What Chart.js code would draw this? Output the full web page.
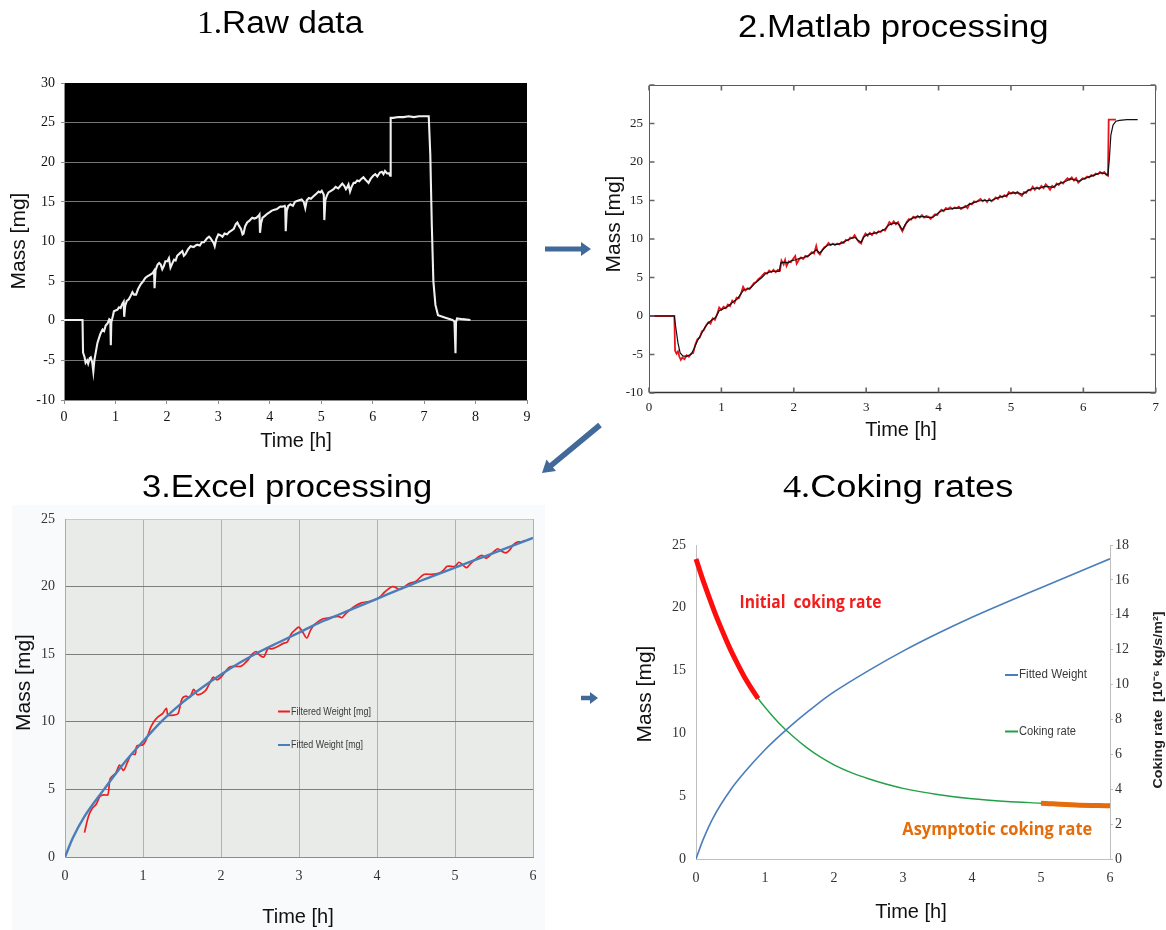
<!DOCTYPE html>
<html>
<head>
<meta charset="utf-8">
<title>Coking measurement workflow</title>
<script src="https://cdn.jsdelivr.net/npm/chart.js@4.4.1/dist/chart.umd.min.js"></script>
<style>
  html, body { margin: 0; padding: 0; background: #fff; }
  #stage { position: relative; width: 1166px; height: 930px; overflow: hidden; background: #fff; }
  canvas.layer { position: absolute; left: 0; top: 0; }
  #excelBg { position: absolute; left: 12px; top: 505px; width: 533px; height: 425px; background: #f8fafb; }
  .ttl { position: absolute; white-space: nowrap; font-family: "Liberation Sans", Arial, sans-serif;
         font-size: 31px; line-height: 31px; color: #000; transform-origin: 0 0; }
  .ttl .num { font-family: "Liberation Serif", "Times New Roman", serif; }
  svg#arrows { position: absolute; left: 0; top: 0; }
</style>
</head>
<body>
<div id="stage">
  <div id="excelBg"></div>
  <canvas id="c1" class="layer" width="1166" height="930"></canvas>
  <canvas id="c2" class="layer" width="1166" height="930"></canvas>
  <canvas id="c3" class="layer" width="1166" height="930"></canvas>
  <canvas id="c4" class="layer" width="1166" height="930"></canvas>
  <svg id="arrows" width="1166" height="930"></svg>
  <div class="ttl" id="t1"><span class="num">1.</span>Raw data</div>
  <div class="ttl" id="t2">2.Matlab processing</div>
  <div class="ttl" id="t3">3.Excel processing</div>
  <div class="ttl" id="t4"><span class="num">4.</span>Coking rates</div>
</div>
<script>
// ---------- 1. raw balance signal ----------
const rawHours = [
  0.00,0.36,0.37,0.40,0.42,0.45,0.47,0.50,0.52,0.55,
  0.57,0.59,0.62,0.65,0.68,0.71,0.75,0.78,0.81,0.85,
  0.88,0.90,0.91,0.92,0.95,0.97,1.00,1.04,1.07,1.10,
  1.13,1.16,1.17,1.19,1.22,1.26,1.30,1.33,1.36,1.40,
  1.44,1.49,1.54,1.58,1.62,1.67,1.72,1.75,1.76,1.78,
  1.82,1.85,1.88,1.91,1.94,1.97,2.01,2.04,2.07,2.11,
  2.14,2.17,2.20,2.25,2.30,2.33,2.36,2.41,2.46,2.52,
  2.56,2.59,2.64,2.68,2.72,2.78,2.82,2.85,2.89,2.91,
  2.93,2.96,3.00,3.04,3.08,3.12,3.17,3.21,3.26,3.30,
  3.34,3.37,3.40,3.44,3.47,3.49,3.52,3.56,3.60,3.63,
  3.66,3.70,3.74,3.79,3.80,3.81,3.83,3.86,3.90,3.95,
  4.00,4.04,4.09,4.14,4.18,4.21,4.25,4.29,4.30,4.31,
  4.33,4.36,4.40,4.45,4.49,4.53,4.57,4.62,4.66,4.69,
  4.72,4.76,4.80,4.85,4.90,4.95,4.98,5.01,5.05,5.06,
  5.08,5.11,5.14,5.19,5.24,5.28,5.33,5.37,5.41,5.45,
  5.48,5.50,5.53,5.56,5.59,5.63,5.66,5.70,5.74,5.78,
  5.82,5.86,5.89,5.92,5.96,6.01,6.05,6.09,6.14,6.18,
  6.21,6.24,6.28,6.32,6.34,6.35,6.40,6.50,6.60,6.70,
  6.80,6.90,7.00,7.09,7.12,7.15,7.18,7.22,7.27,7.40,
  7.55,7.59,7.61,7.62,7.64,7.75,7.90
];
const rawMass = [
  0.1,0.1,-4.0,-4.6,-5.3,-5.0,-5.4,-4.7,-4.6,-5.3,
  -6.4,-5.0,-3.9,-2.8,-2.2,-1.6,-1.1,-1.3,-0.6,-0.3,
  0.2,0.1,-3.1,-0.2,0.6,1.2,1.3,1.4,1.7,1.6,
  2.1,2.4,0.5,1.9,2.5,2.7,3.2,3.6,3.3,3.3,
  4.0,4.6,5.0,5.4,5.6,5.8,6.0,6.3,4.1,6.4,
  7.1,7.3,7.1,6.5,6.9,7.5,7.5,7.9,6.7,7.3,
  7.7,7.6,8.2,8.5,8.8,8.2,8.4,9.0,9.4,9.3,
  9.5,9.6,9.5,9.9,9.9,10.4,10.6,10.4,10.0,9.8,
  9.4,10.3,10.9,10.8,10.6,11.0,10.9,11.2,11.4,11.6,
  12.2,12.4,12.0,11.6,10.9,11.0,11.9,12.4,12.6,12.8,
  13.0,12.9,13.0,13.3,13.4,11.1,12.3,13.0,13.2,13.5,
  13.7,13.9,14.0,14.1,14.3,14.4,14.4,14.5,14.3,11.3,
  13.9,14.5,14.7,14.5,15.0,15.1,15.2,15.3,15.0,14.2,
  15.2,15.5,15.4,15.7,16.0,16.3,16.2,16.4,15.9,12.7,
  15.2,15.8,16.2,16.4,16.6,16.9,16.7,17.0,17.3,17.0,
  16.6,16.8,17.2,16.3,16.9,17.4,17.4,17.7,17.6,17.9,
  18.1,17.8,17.6,17.4,17.9,18.3,18.5,18.2,18.7,18.8,
  18.5,18.9,18.6,18.6,18.3,25.6,25.6,25.7,25.7,25.8,
  25.7,25.8,25.8,25.8,21.0,12.0,5.0,2.0,0.7,0.4,
  0.1,-0.1,-4.1,-0.2,0.3,0.2,0.1
];

// ---------- 2. Matlab: smoothed signal (black) and cleaned signal (red) ----------
const smoothHours = [
  0,0.35,0.37,0.40,0.43,0.47,0.52,0.58,0.62,0.67,
  0.72,0.77,0.82,0.87,0.92,0.97,1.02,1.07,1.12,1.17,
  1.22,1.27,1.31,1.36,1.41,1.46,1.51,1.56,1.61,1.66,
  1.71,1.80,1.82,1.87,1.92,1.97,2.03,2.08,2.14,2.20,
  2.26,2.31,2.36,2.42,2.47,2.53,2.60,2.67,2.73,2.80,
  2.85,2.89,2.93,2.97,3.02,3.08,3.14,3.20,3.26,3.31,
  3.36,3.42,3.46,3.50,3.54,3.60,3.66,3.72,3.79,3.85,
  3.92,3.97,4.03,4.09,4.16,4.23,4.30,4.36,4.42,4.48,
  4.54,4.60,4.67,4.73,4.80,4.87,4.93,4.98,5.04,5.10,
  5.16,5.22,5.28,5.34,5.40,5.46,5.52,5.58,5.64,5.70,
  5.76,5.82,5.88,5.94,6.00,6.06,6.12,6.18,6.24,6.30,
  6.34,6.36,6.38,6.41,6.45,6.50,6.60,6.75
];
const smoothMass = [
  0,0,-1.5,-3.5,-4.8,-5.2,-5.2,-5.0,-4.3,-3.2,
  -2.4,-1.5,-0.9,-0.5,-0.2,0.7,0.9,1.1,1.5,1.9,
  2.2,2.9,3.4,3.5,3.7,4.2,4.6,5.0,5.5,5.7,
  5.8,5.8,6.9,7.0,6.9,7.2,7.3,7.5,7.6,7.8,
  8.2,8.6,8.2,8.8,9.2,9.3,9.3,9.5,9.8,10.1,
  10.2,9.8,9.6,10.3,10.6,10.7,10.8,11.0,11.3,11.8,
  12.0,12.1,11.8,11.2,11.9,12.5,12.8,12.9,12.9,12.8,
  12.8,13.2,13.6,13.8,13.9,14.0,14.0,14.1,14.5,14.7,
  14.9,15.0,15.0,15.0,15.3,15.5,15.6,15.9,16.0,16.0,
  15.8,16.2,16.5,16.6,16.6,16.8,16.8,16.7,17.1,17.3,
  17.5,17.8,17.7,17.5,17.8,18.0,18.2,18.4,18.6,18.5,
  18.3,20.5,23.5,24.8,25.3,25.4,25.5,25.5
];
const cleanHours = [
  0,0.35,0.36,0.38,0.40,0.42,0.44,0.46,0.49,0.52,
  0.55,0.58,0.61,0.64,0.67,0.70,0.73,0.76,0.79,0.82,
  0.85,0.88,0.91,0.94,0.97,1.00,1.03,1.06,1.09,1.12,
  1.15,1.18,1.21,1.24,1.27,1.30,1.33,1.36,1.39,1.42,
  1.45,1.48,1.51,1.54,1.57,1.60,1.63,1.66,1.69,1.72,
  1.75,1.78,1.81,1.83,1.86,1.88,1.90,1.93,1.96,1.99,
  2.02,2.04,2.07,2.10,2.13,2.16,2.19,2.22,2.25,2.28,
  2.31,2.33,2.36,2.39,2.42,2.45,2.48,2.51,2.54,2.57,
  2.60,2.63,2.66,2.69,2.72,2.75,2.78,2.81,2.84,2.87,
  2.90,2.93,2.96,2.99,3.02,3.05,3.08,3.11,3.14,3.17,
  3.20,3.23,3.26,3.29,3.32,3.35,3.38,3.41,3.44,3.47,
  3.50,3.53,3.56,3.59,3.62,3.65,3.68,3.71,3.74,3.77,
  3.80,3.83,3.86,3.89,3.92,3.95,3.98,4.01,4.04,4.07,
  4.10,4.13,4.16,4.19,4.22,4.25,4.28,4.31,4.34,4.37,
  4.40,4.43,4.46,4.49,4.52,4.55,4.58,4.61,4.64,4.67,
  4.70,4.73,4.76,4.79,4.82,4.85,4.88,4.91,4.94,4.97,
  5.00,5.03,5.06,5.09,5.12,5.15,5.18,5.21,5.24,5.27,
  5.30,5.33,5.36,5.39,5.42,5.45,5.48,5.51,5.54,5.57,
  5.60,5.63,5.66,5.69,5.72,5.75,5.78,5.81,5.84,5.87,
  5.90,5.93,5.96,5.99,6.02,6.05,6.08,6.11,6.14,6.17,
  6.20,6.23,6.26,6.29,6.32,6.34,6.35,6.40,6.45
];
const cleanMass = [
  0,0,-4.5,-4.9,-4.6,-5.3,-5.7,-5.4,-5.6,-5.1,
  -5.3,-4.9,-4.8,-3.7,-3.0,-2.8,-2.0,-1.8,-1.2,-0.8,
  -1.0,-0.3,-0.5,0.2,1.1,0.8,1.2,1.0,1.5,1.3,
  2.0,1.7,2.4,2.3,2.9,3.8,3.3,3.6,3.5,3.9,
  4.3,4.4,4.8,5.0,5.3,5.6,5.5,5.9,5.7,6.0,
  5.7,6.0,5.9,7.2,6.7,7.3,6.5,7.1,7.0,7.4,
  7.8,6.8,7.3,7.6,7.4,7.8,7.7,8.0,8.3,8.1,
  9.1,8.3,8.0,8.5,8.9,9.1,9.5,9.2,9.4,9.2,
  9.4,9.3,9.6,9.5,9.9,9.8,10.2,10.1,10.5,10.0,
  9.6,9.4,10.2,10.7,10.4,10.8,10.5,10.9,10.7,11.0,
  10.9,11.2,11.1,11.6,12.2,11.9,12.3,11.9,12.2,11.5,
  11.0,11.6,12.2,12.6,12.5,12.9,12.7,13.0,12.8,13.1,
  12.8,13.0,12.9,12.6,12.9,13.2,13.1,13.5,13.8,13.6,
  14.0,13.9,14.1,13.9,14.1,14.0,14.2,13.9,14.1,14.3,
  14.0,14.6,14.5,14.9,14.8,15.0,15.2,14.9,15.1,14.8,
  15.2,14.9,15.1,15.4,15.2,15.6,15.4,15.7,15.5,16.1,
  15.9,16.1,15.9,16.1,15.8,15.6,16.1,16.0,16.4,16.3,
  16.8,16.4,16.7,16.5,16.9,16.6,17.1,16.8,16.4,16.9,
  16.7,17.2,17.0,17.4,17.2,17.6,17.9,17.7,18.0,17.6,
  17.9,17.3,17.6,17.9,17.8,18.1,18.0,18.3,18.2,18.5,
  18.4,18.7,18.5,18.7,18.3,18.2,25.5,25.5,25.5
];

// ---------- 3. Excel: filtered weight and fitted weight ----------
const filteredHours = [
  0.25,0.30,0.35,0.40,0.45,0.50,0.55,0.58,0.65,0.70,
  0.75,0.80,0.85,0.90,0.92,1.00,1.05,1.10,1.15,1.20,
  1.25,1.30,1.32,1.40,1.45,1.50,1.55,1.60,1.65,1.70,
  1.80,1.85,1.90,1.95,2.00,2.10,2.15,2.25,2.30,2.35,
  2.40,2.45,2.50,2.55,2.60,2.65,2.70,2.80,2.85,2.90,
  2.95,3.00,3.05,3.10,3.15,3.20,3.30,3.40,3.50,3.55,
  3.60,3.70,3.80,3.90,4.00,4.05,4.10,4.20,4.30,4.40,
  4.50,4.60,4.70,4.80,4.85,4.90,5.00,5.05,5.10,5.15,
  5.20,5.30,5.35,5.40,5.50,5.55,5.60,5.65,5.70,5.75,
  5.80,5.85,5.90
];
const filteredMass = [
  1.8,3.0,3.6,3.9,4.5,4.6,4.6,5.8,6.2,6.8,
  6.4,7.0,7.6,7.6,8.2,8.3,8.8,9.6,10.1,10.4,
  10.6,11.0,10.5,10.5,10.6,11.7,11.9,11.8,12.4,12.0,
  12.3,12.8,13.3,13.1,13.3,14.0,14.1,14.1,14.3,14.6,
  15.0,15.2,14.9,14.8,15.4,15.4,15.5,15.8,15.9,16.5,
  16.8,17.0,16.6,16.2,16.8,17.2,17.6,17.7,17.8,17.7,
  18.0,18.5,18.8,18.9,19.1,19.3,19.6,20.0,19.8,20.2,
  20.4,20.9,20.9,21.0,21.2,21.5,21.5,21.8,21.6,21.4,
  21.7,22.2,22.3,22.1,22.6,22.8,22.6,22.5,22.7,23.1,
  23.3,23.3,23.4
];
const fitHours = [0,0.1,0.25,0.5,0.75,1.0,1.25,1.5,1.75,2.0,2.25,2.5,2.75,3.0,3.25,3.5,3.75,4.0,4.25,4.5,4.75,5.0,5.25,5.5,5.75,6.0];
const fitMass  = [0,1.4,3.0,5.0,6.9,8.55,10.1,11.4,12.5,13.5,14.4,15.2,15.9,16.6,17.3,17.9,18.5,19.1,19.7,20.3,20.85,21.4,21.95,22.5,23.05,23.6];

// ---------- 4. Coking rates ----------
const curveHours = [0,0.1,0.25,0.5,0.75,1,1.25,1.5,1.75,2,2.5,3,3.5,4,4.5,5,5.5,6];
const curveMass  = [0,1.5,3.3,5.5,7.2,8.7,10.0,11.2,12.3,13.3,15.0,16.55,17.95,19.25,20.45,21.6,22.75,23.9];
const rateHours = [0,0.1,0.2,0.3,0.4,0.5,0.6,0.7,0.8,0.9,1.0,1.2,1.4,1.6,1.8,2.0,2.25,2.5,2.75,3.0,3.5,4.0,4.5,5.0,5.5,6.0];
const rateValues = [17.2,16.0,14.9,13.85,12.9,12.0,11.2,10.45,9.8,9.2,8.7,7.8,7.05,6.4,5.85,5.4,4.95,4.6,4.3,4.05,3.7,3.45,3.3,3.2,3.1,3.05];
const initialRange = [0, 0.9];
const asymptoticRange = [5, 6];

// tick settings per panel
const rawTicksX = {min: 0, max: 9, step: 1};
const rawTicksY = {min: -10, max: 30, step: 5};
const matlabTicksX = {min: 0, max: 7, step: 1};
const matlabTicksY = {min: -10, max: 30, step: 5};
const excelTicksX = {min: 0, max: 6, step: 1};
const excelTicksY = {min: 0, max: 25, step: 5};
const rateTicksY = {min: 0, max: 18, step: 2};

// ---------- helpers ----------
const W = 1166, H = 930;
const serif = '"Liberation Serif", "Times New Roman", serif';
const sans = '"Liberation Sans", Arial, sans-serif';

const pts = (xs, ys) => xs.map((x, i) => ({x, y: ys[i]}));
const within = (xs, ys, [lo, hi]) => {
  const out = [];
  xs.forEach((x, i) => { if (x >= lo && x <= hi) out.push({x, y: ys[i]}); });
  return out;
};

function baseOptions(area, yW, xH, rW) {
  return {
    responsive: false, animation: false, devicePixelRatio: 1, events: [],
    layout: {padding: {left: area.left - yW, top: area.top,
                       right: W - area.right - (rW || 0), bottom: H - area.bottom - xH}},
    plugins: {legend: {display: false}, tooltip: {enabled: false}},
    elements: {point: {radius: 0}}
  };
}

const areaFill = color => ({
  id: 'areaFill',
  beforeDraw(chart) {
    const a = chart.chartArea, c = chart.ctx;
    c.save(); c.fillStyle = color;
    c.fillRect(a.left, a.top, a.right - a.left, a.bottom - a.top);
    c.restore();
  }
});

// draws text labels (optionally rotated and stretched to a width) and legend swatches
const textLayer = getItems => ({
  id: 'textLayer',
  afterDraw(chart) {
    const ctx = chart.ctx;
    const items = typeof getItems === 'function' ? getItems(chart) : getItems;
    items.forEach(it => {
      ctx.save();
      if (it.line) {
        ctx.strokeStyle = it.color; ctx.lineWidth = it.lineWidth || 2;
        ctx.beginPath(); ctx.moveTo(it.x1, it.y); ctx.lineTo(it.x2, it.y); ctx.stroke();
        ctx.restore(); return;
      }
      ctx.font = it.font; ctx.fillStyle = it.color || '#000';
      ctx.textAlign = it.align || 'center'; ctx.textBaseline = 'middle';
      ctx.translate(it.x, it.y);
      if (it.rotate) ctx.rotate(it.rotate);
      if (it.width) { const w = ctx.measureText(it.text).width; ctx.scale(it.width / w, 1); }
      ctx.fillText(it.text, 0, 0);
      ctx.restore();
    });
  }
});

// Matlab-style box with inward tick marks on all four sides
const matlabBox = {
  id: 'matlabBox',
  afterDatasetsDraw(chart) {
    const {ctx, chartArea: a, scales: {x, y}} = chart;
    const L = Math.round(a.left) + 0.5, R = Math.round(a.right) - 0.5;
    const T = Math.round(a.top) + 0.5, B = Math.round(a.bottom) - 0.5;
    ctx.save();
    ctx.strokeStyle = '#5a5a5a'; ctx.lineWidth = 1;
    ctx.strokeRect(L, T, R - L, B - T);
    ctx.strokeStyle = '#333'; ctx.lineWidth = 1.6;
    ctx.beginPath(); ctx.moveTo(L, B); ctx.lineTo(R, B); ctx.stroke();
    ctx.strokeStyle = '#666'; ctx.lineWidth = 1.6;
    ctx.beginPath();
    x.ticks.forEach(t => {
      const px = x.getPixelForValue(t.value);
      ctx.moveTo(px, B); ctx.lineTo(px, B - 5);
      ctx.moveTo(px, T); ctx.lineTo(px, T + 5);
    });
    y.ticks.forEach(t => {
      const py = y.getPixelForValue(t.value);
      ctx.moveTo(L, py); ctx.lineTo(L + 5, py);
      ctx.moveTo(R, py); ctx.lineTo(R - 5, py);
    });
    ctx.stroke();
    ctx.restore();
  }
};

const linearX = (t, extra) => Object.assign({
  type: 'linear', min: t.min, max: t.max
}, extra);

// ---------- 1. Raw data ----------
const area1 = {left: 64, top: 83, right: 527, bottom: 400};
new Chart(document.getElementById('c1'), {
  type: 'line',
  data: {datasets: [{data: pts(rawHours, rawMass), borderColor: '#f0f0f0', borderWidth: 2.1, tension: 0}]},
  options: Object.assign(baseOptions(area1, 45, 40), {
    scales: {
      x: linearX(rawTicksX, {
        afterFit: s => { s.height = 40; },
        ticks: {stepSize: rawTicksX.step, autoSkip: false, maxRotation: 0, padding: 5, color: '#111', font: {family: serif, size: 14}},
        grid: {drawOnChartArea: false, drawTicks: true, tickLength: 4, color: '#8c8c8c'},
        border: {color: '#8c8c8c'}
      }),
      y: {
        min: rawTicksY.min, max: rawTicksY.max,
        afterFit: s => { s.width = 45; },
        ticks: {stepSize: rawTicksY.step, padding: 6, color: '#111', font: {family: serif, size: 14}},
        grid: {color: c => (c.tick && c.tick.value === rawTicksY.max) ? 'rgba(0,0,0,0)' : '#767676',
               tickColor: '#8c8c8c', tickLength: 3},
        border: {color: '#8c8c8c'}
      }
    }
  }),
  plugins: [areaFill('#000'), textLayer([
    {text: 'Mass [mg]', x: 19, y: 241, rotate: -Math.PI / 2, font: `21px ${sans}`, color: '#111'},
    {text: 'Time [h]', x: 296, y: 441, font: `20px ${sans}`, color: '#111'}
  ])]
});

// ---------- 2. Matlab processing ----------
const area2 = {left: 649, top: 85, right: 1158, bottom: 393};
new Chart(document.getElementById('c2'), {
  type: 'line',
  data: {datasets: [
    {data: pts(smoothHours, smoothMass), borderColor: '#111', borderWidth: 1.2, tension: 0},
    {data: pts(cleanHours, cleanMass), borderColor: '#e8141c', borderWidth: 1.8, tension: 0}
  ]},
  options: Object.assign(baseOptions(area2, 45, 40), {
    scales: {
      x: linearX(matlabTicksX, {
        afterFit: s => { s.height = 40; },
        ticks: {stepSize: matlabTicksX.step, autoSkip: false, maxRotation: 0, padding: 7, color: '#222', font: {family: serif, size: 13}},
        grid: {display: false, drawTicks: false},
        border: {display: false}
      }),
      y: {
        min: matlabTicksY.min, max: matlabTicksY.max,
        afterFit: s => { s.width = 45; },
        ticks: {stepSize: matlabTicksY.step, padding: 6, color: '#222', font: {family: serif, size: 13},
                callback: v => v === matlabTicksY.max ? '' : v},
        grid: {display: false, drawTicks: false},
        border: {display: false}
      }
    }
  }),
  plugins: [matlabBox, textLayer([
    {text: 'Mass [mg]', x: 614.5, y: 224, rotate: -Math.PI / 2, font: `21px ${sans}`, color: '#111'},
    {text: 'Time [h]', x: 901, y: 430, font: `20px ${sans}`, color: '#111'}
  ])]
});

// ---------- 3. Excel processing ----------
const area3 = {left: 65, top: 519, right: 533, bottom: 857};
new Chart(document.getElementById('c3'), {
  type: 'line',
  data: {datasets: [
    {data: pts(fitHours, fitMass), borderColor: '#4a7ebb', borderWidth: 2.4, cubicInterpolationMode: 'monotone'},
    {data: pts(filteredHours, filteredMass), borderColor: '#ee1f1f', borderWidth: 1.7, tension: 0.3}
  ]},
  options: Object.assign(baseOptions(area3, 45, 40), {
    scales: {
      x: linearX(excelTicksX, {
        afterFit: s => { s.height = 40; },
        ticks: {stepSize: excelTicksX.step, autoSkip: false, maxRotation: 0, padding: 11, color: '#333', font: {family: serif, size: 14}},
        grid: {color: '#afb2af', drawTicks: false},
        border: {color: '#8a8d8a'}
      }),
      y: {
        min: excelTicksY.min, max: excelTicksY.max,
        afterFit: s => { s.width = 45; },
        ticks: {stepSize: excelTicksY.step, padding: 10, color: '#333', font: {family: serif, size: 14}},
        grid: {color: c => (c.tick && c.tick.value === excelTicksY.max) ? '#c6c9c6' : '#7b7e7b', drawTicks: false},
        border: {color: '#a8aba8'}
      }
    }
  }),
  plugins: [areaFill('#e8ebe7'), textLayer([
    {text: 'Mass [mg]', x: 24, y: 682.5, rotate: -Math.PI / 2, font: `21px ${sans}`, color: '#111'},
    {text: 'Time [h]', x: 298, y: 917, font: `20px ${sans}`, color: '#111'},
    {line: true, x1: 278, x2: 290, y: 711.5, color: '#ee1f1f', lineWidth: 2},
    {text: 'Filtered Weight [mg]', x: 291, y: 711.5, align: 'left', width: 80, font: `11px ${sans}`, color: '#3a3a3a'},
    {line: true, x1: 278, x2: 290, y: 745, color: '#4a7ebb', lineWidth: 2},
    {text: 'Fitted Weight [mg]', x: 291, y: 745, align: 'left', width: 72, font: `11px ${sans}`, color: '#3a3a3a'}
  ])]
});

// ---------- 4. Coking rates ----------
const area4 = {left: 696, top: 545, right: 1110, bottom: 859};
new Chart(document.getElementById('c4'), {
  type: 'line',
  data: {datasets: [
    {data: within(rateHours, rateValues, initialRange), yAxisID: 'y1', borderColor: '#ff0d0d', borderWidth: 5,
     cubicInterpolationMode: 'monotone', clip: 6},
    {data: within(rateHours, rateValues, asymptoticRange), yAxisID: 'y1', borderColor: '#e46c0a', borderWidth: 5,
     cubicInterpolationMode: 'monotone', clip: 6},
    {data: pts(curveHours, curveMass), yAxisID: 'y', borderColor: '#4a7ebb', borderWidth: 1.6, cubicInterpolationMode: 'monotone'},
    {data: pts(rateHours, rateValues), yAxisID: 'y1', borderColor: '#23a047', borderWidth: 1.4, cubicInterpolationMode: 'monotone'}
  ]},
  options: Object.assign(baseOptions(area4, 45, 40, 50), {
    scales: {
      x: linearX(excelTicksX, {
        afterFit: s => { s.height = 40; },
        ticks: {stepSize: excelTicksX.step, autoSkip: false, maxRotation: 0, padding: 11, color: '#333', font: {family: serif, size: 14}},
        grid: {display: false, drawTicks: false},
        border: {color: '#bfbfbf'}
      }),
      y: {
        position: 'left', min: excelTicksY.min, max: excelTicksY.max,
        afterFit: s => { s.width = 45; },
        ticks: {stepSize: excelTicksY.step, padding: 10, color: '#333', font: {family: serif, size: 14}},
        grid: {display: false, drawTicks: false},
        border: {color: '#bfbfbf'}
      },
      y1: {
        position: 'right', min: rateTicksY.min, max: rateTicksY.max,
        afterFit: s => { s.width = 50; },
        ticks: {stepSize: rateTicksY.step, padding: 2, color: '#333', font: {family: serif, size: 14}},
        grid: {drawOnChartArea: false, drawTicks: true, tickLength: 3, color: '#bfbfbf'},
        border: {color: '#bfbfbf'}
      }
    }
  }),
  plugins: [textLayer(chart => {
    const {x, y} = chart.scales;
    return [
      {text: 'Mass [mg]', x: 645.5, y: 694, rotate: -Math.PI / 2, font: `21px ${sans}`, color: '#111'},
      {text: 'Time [h]', x: 911, y: 912, font: `20px ${sans}`, color: '#111'},
      {text: 'Coking rate  [10\u207B\u2076 kg/s/m\u00B2]', x: 1158, y: 700, rotate: -Math.PI / 2, width: 177,
       font: `bold 13px ${sans}`, color: '#222'},
      {text: 'Initial  coking rate', x: x.getPixelForValue(0.63), y: y.getPixelForValue(20.4), align: 'left', width: 142,
       font: `bold 17px "Open Sans", ${sans}`, color: '#f21c1c'},
      {text: 'Asymptotic coking rate', x: x.getPixelForValue(2.99), y: y.getPixelForValue(2.3), align: 'left', width: 190,
       font: `bold 17px "Open Sans", ${sans}`, color: '#e46c0a'},
      {line: true, x1: 1005, x2: 1018, y: 675, color: '#4a7ebb', lineWidth: 2},
      {text: 'Fitted Weight', x: 1019, y: 675, align: 'left', width: 68, font: `12px ${sans}`, color: '#3a3a3a'},
      {line: true, x1: 1005, x2: 1018, y: 731.5, color: '#23a047', lineWidth: 2},
      {text: 'Coking rate', x: 1019, y: 731.5, align: 'left', width: 57, font: `12px ${sans}`, color: '#3a3a3a'}
    ];
  })]
});

// ---------- panel titles ----------
[['t1', 280, 33.3, 166], ['t2', 893, 36.7, 310], ['t3', 287, 496.7, 290], ['t4', 898, 497, 230]]
  .forEach(([id, cx, baseline, width]) => {
    const el = document.getElementById(id);
    const natural = el.offsetWidth;
    el.style.top = (baseline - 26.2) + 'px';
    el.style.left = (cx - width / 2) + 'px';
    el.style.transform = `scaleX(${width / natural})`;
  });

// ---------- flow arrows ----------
function arrowPath(x1, y1, x2, y2, shaft, head, headLen) {
  const dx = x2 - x1, dy = y2 - y1, L = Math.hypot(dx, dy);
  const ux = dx / L, uy = dy / L, nx = -uy, ny = ux;
  const bx = x2 - ux * headLen, by = y2 - uy * headLen;
  const p = [[x1 + nx * shaft, y1 + ny * shaft], [bx + nx * shaft, by + ny * shaft], [bx + nx * head, by + ny * head],
             [x2, y2], [bx - nx * head, by - ny * head], [bx - nx * shaft, by - ny * shaft], [x1 - nx * shaft, y1 - ny * shaft]];
  return 'M' + p.map(q => q.map(v => v.toFixed(1)).join(',')).join('L') + 'Z';
}
const svg = document.getElementById('arrows');
[[545, 249, 591, 249, 2.6, 7, 10], [600, 425, 542, 473, 2.8, 7.5, 12], [581, 698, 598, 698, 2.2, 6, 8]]
  .forEach(a => {
    const path = document.createElementNS('http://www.w3.org/2000/svg', 'path');
    path.setAttribute('d', arrowPath(...a));
    path.setAttribute('fill', '#41699a');
    svg.appendChild(path);
  });
</script>
</body>
</html>
